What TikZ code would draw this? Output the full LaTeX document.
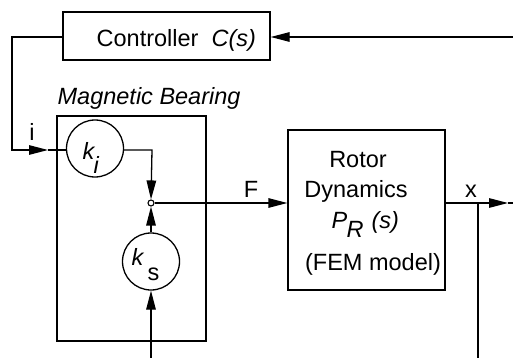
\documentclass[tikz,border=0pt]{standalone}
\usepackage{fontspec}
\setmainfont{Liberation Sans}
\usetikzlibrary{arrows.meta}
\begin{document}
\begin{tikzpicture}[x=1pt,y=-1pt,
  line width=1.3pt,
  every node/.style={font=\fontsize{23.5}{27}\selectfont},
  arr/.style={-{Triangle[length=19pt,width=9.5pt]}},
  blockbox/.style={draw, rectangle, inner sep=0pt},
  gain/.style={draw, circle, minimum size=57pt, inner sep=0pt},
  lbl/.style={anchor=base, inner sep=0pt},
  lblw/.style={anchor=base west, inner sep=0pt}]
\useasboundingbox (0,0) rectangle (513,358);
% blocks
\node[blockbox, minimum width=207pt, minimum height=48pt] (ctrl) at (166.5,36) {};
\node[lblw] (ctrltxt) at (96,47) {Controller\ \ \textit{C(s)}};
\node[blockbox, minimum width=149pt, minimum height=225pt] (mb) at (131.5,228.5) {};
\node[lblw] (mbtxt) at (57,105) {\textit{Magnetic Bearing}};
\node[gain] (ki) at (95,148.5) {};
\node[lblw] (kik) at (82,160) {\textit{k}};
\node[lblw] (kii) at (93,173) {\textit{i}};
\node[gain] (ks) at (151,261.5) {};
\node[lblw] (ksk) at (131,265) {\textit{k}};
\node[lblw] (kss) at (147,280) {s};
\node[draw, circle, minimum size=6pt, inner sep=0pt, line width=1.1pt] (jn) at (151,203) {};
\node[blockbox, minimum width=157pt, minimum height=160pt] (rotor) at (366.5,210) {};
\node[lbl] (r1) at (358,167) {Rotor};
\node[lbl] (r2) at (356,197) {Dynamics};
\node[lblw] (r3p) at (331,228) {\textit{P}};
\node[lblw] (r3r) at (346,237) {\textit{R}};
\node[lblw] (r3s) at (371,228) {\textit{(s)}};
\node[lbl] (r4) at (373,270) {(FEM model)};
% labels
\node[lbl] (ilbl) at (32,141) {i};
\node[lbl] (flbl) at (251,197) {F};
\node[lbl] (xlbl) at (471,197) {x};
% coordinates
\coordinate (fbR) at (513,37);
\coordinate (iarr) at (48,150);
\coordinate (kiR) at (152,150);
\coordinate (xarr) at (508,203);
\coordinate (xend) at (513,203);
\coordinate (xbr) at (478,203);
\coordinate (xbot) at (478,358);
\coordinate (ksin) at (151,358);
% connectors
\draw[arr] (fbR) -- (ctrl.east |- fbR);
\draw[arr] (ctrl.west |- fbR) -| (12,150) -- (iarr);
\draw (iarr) -- (ki.west |- iarr);
\draw[arr] (ki.east |- kiR) -- (kiR) -- (jn.north);
\draw[arr] (ks.north) -- (jn.south);
\draw[arr] (ksin) -- (ks.south);
\draw[arr] (jn.east) -- (rotor.west |- jn);
\draw[arr] (rotor.east |- jn) -- (xarr);
\draw (xarr) -- (xend);
\draw (xbr) -- (xbot);
\end{tikzpicture}
\end{document}
